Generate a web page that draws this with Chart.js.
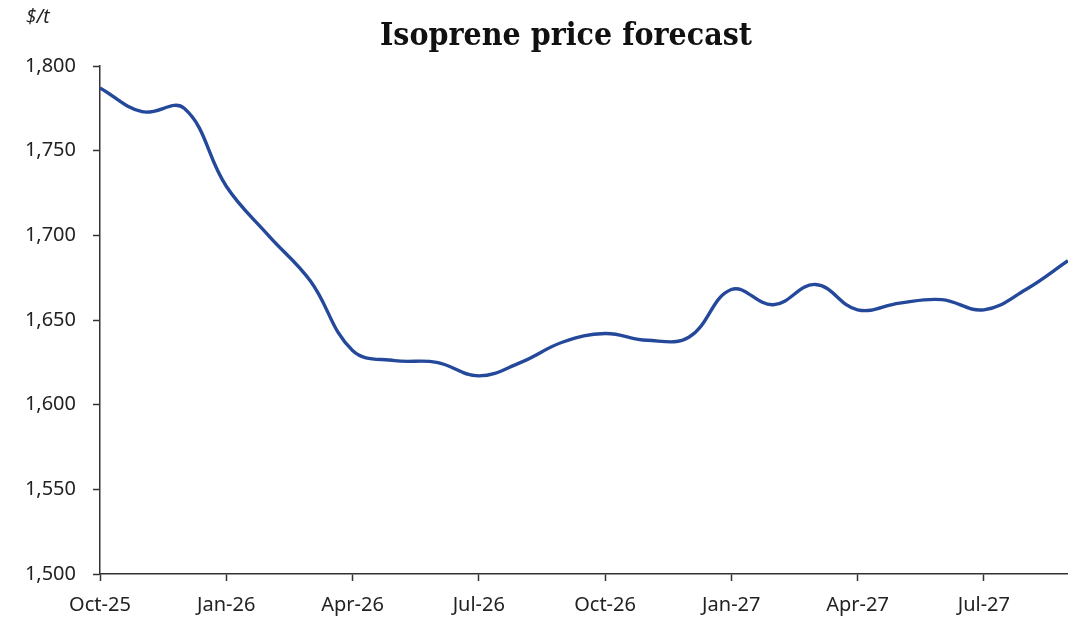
<!DOCTYPE html>
<html>
<head>
<meta charset="utf-8">
<script src="https://cdn.jsdelivr.net/npm/chart.js@4"></script>
<style>
  html, body { margin: 0; padding: 0; background: #fff; }
  #wrap { width: 1068px; height: 617px; position: relative; }
</style>
</head>
<body>
<div id="wrap"><canvas id="chart"></canvas></div>
<script>
// months from Oct-25 to Sep-27
const months = [
  "Oct-25", "Nov-25", "Dec-25", "Jan-26", "Feb-26", "Mar-26",
  "Apr-26", "May-26", "Jun-26", "Jul-26", "Aug-26", "Sep-26",
  "Oct-26", "Nov-26", "Dec-26", "Jan-27", "Feb-27", "Mar-27",
  "Apr-27", "May-27", "Jun-27", "Jul-27", "Aug-27", "Sep-27"
];

// $/t
const prices = [
  1787, 1773, 1775, 1729, 1700, 1673,
  1632, 1626, 1625, 1617, 1625, 1637,
  1642, 1638, 1640, 1668, 1659, 1671,
  1656, 1660, 1662, 1656, 1668, 1685
];

const yTicks = [1500, 1550, 1600, 1650, 1700, 1750, 1800];

const titleText = "Isoprene price forecast";
const unitText = "$/t";

const lineColor = "#24489a";
const axisColor = "#333333";
const labelFont = "'Noto Sans', 'Open Sans', sans-serif";

// title and unit label drawn on top
const textPlugin = {
  id: "textPlugin",
  afterDraw(chart) {
    const ctx = chart.ctx;
    ctx.save();
    ctx.fillStyle = "#111";
    ctx.font = "bold 31px 'DejaVu Serif', serif";
    ctx.textAlign = "center";
    ctx.textBaseline = "middle";
    // squeeze the title a little so it spans the same width as the original
    const w = ctx.measureText(titleText).width;
    const sx = Math.min(1, 372 / w);
    ctx.translate(566, 37);
    ctx.scale(sx, 1);
    ctx.fillText(titleText, 0, 0);
    ctx.restore();

    ctx.save();
    ctx.font = "italic 19px " + labelFont;
    ctx.textAlign = "left";
    ctx.textBaseline = "middle";
    ctx.fillStyle = "#222";
    ctx.fillText(unitText, 26, 18);
    ctx.restore();
  }
};

new Chart(document.getElementById("chart"), {
  type: "line",
  data: {
    labels: months,
    datasets: [{
      data: prices,
      borderColor: lineColor,
      borderWidth: 3.4,
      pointRadius: 0,
      tension: 0.4,
      fill: false
    }]
  },
  options: {
    responsive: true,
    maintainAspectRatio: false,
    animation: false,
    layout: { padding: { top: 66, right: 0, left: 0, bottom: 0 } },
    plugins: {
      legend: { display: false },
      tooltip: { enabled: false }
    },
    scales: {
      x: {
        offset: false,
        border: { display: true, color: axisColor, width: 1.5 },
        grid: {
          drawOnChartArea: false,
          tickLength: 7,
          color: (c) => (c.index % 3 === 0 ? axisColor : "rgba(0,0,0,0)"),
          tickWidth: 1.5
        },
        ticks: {
          autoSkip: false,
          maxRotation: 0,
          padding: 12,
          color: "#222",
          font: { family: labelFont, size: 20 },
          callback: function (v, i) { return i % 3 === 0 ? months[i] : ""; }
        },
        afterFit: (s) => {
          s.height = 43;
          s.paddingLeft = 0;
          s.paddingRight = 0;
        }
      },
      y: {
        min: 1500,
        max: 1800,
        afterBuildTicks: (s) => { s.ticks = yTicks.map((v) => ({ value: v })); },
        border: { display: true, color: axisColor, width: 1.5 },
        grid: {
          drawOnChartArea: false,
          tickLength: 7,
          color: axisColor,
          tickWidth: 1.5
        },
        ticks: {
          padding: 17,
          color: "#222",
          font: { family: labelFont, size: 20 },
          callback: (v) => v.toLocaleString("en-US")
        },
        afterFit: (s) => {
          s.width = 100;
          s.paddingTop = 0;
          s.paddingBottom = 0;
        }
      }
    }
  },
  plugins: [textPlugin]
});
</script>
</body>
</html>
